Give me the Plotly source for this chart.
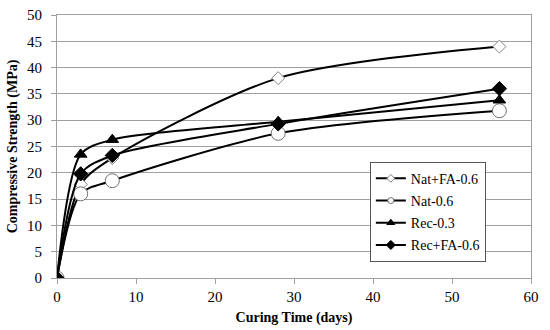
import plotly.graph_objects as go

days = [0, 3, 7, 28, 56]
nat_fa = [0, 17.8, 22.8, 38.0, 44.0]
nat = [0, 16.0, 18.5, 27.5, 31.8]
rec03 = [0, 23.5, 26.3, 29.7, 33.8]
rec_fa = [0, 19.8, 23.3, 29.3, 36.0]

series = [
    ("Nat+FA-0.6", nat_fa, "diamond", 10, "white", "#808080", 6),
    ("Nat-0.6", nat, "circle", 14, "white", "#707070", 6),
    ("Rec-0.3", rec03, "triangle-up", 11, "black", "black", 7),
    ("Rec+FA-0.6", rec_fa, "diamond", 11, "black", "black", 7),
]

fig = go.Figure()
for name, ys, sym, sz, fill, edge, lsz in series:
    fig.add_trace(go.Scatter(x=days, y=ys, name=name, mode="lines+markers", showlegend=False,
                             line=dict(color="black", width=2, shape="spline", smoothing=0.8),
                             marker=dict(symbol=sym, size=sz, color=fill, line=dict(color=edge, width=1))))
# legend entries with smaller symbols, as in the reference
for name, ys, sym, sz, fill, edge, lsz in series:
    fig.add_trace(go.Scatter(x=[None], y=[None], name=name, mode="lines+markers", legendgroup=name,
                             line=dict(color="black", width=2),
                             marker=dict(symbol=sym, size=lsz, color=fill, line=dict(color=edge, width=1))))

serif = "Liberation Serif"
fig.update_layout(
    width=550, height=330,
    margin=dict(l=57, r=19, t=15, b=52),
    paper_bgcolor="white", plot_bgcolor="white",
    font=dict(family=serif, size=15, color="black"),
    showlegend=True,
    legend=dict(x=0.66, y=0.442, xanchor="left", yanchor="top",
                bgcolor="white", bordercolor="#555555", borderwidth=1,
                font=dict(family=serif, size=14, color="black"),
                tracegroupgap=1, itemwidth=30),
)
fig.update_xaxes(range=[0, 60], dtick=10, showgrid=False, showline=True, linecolor="#a0a0a0",
                 mirror=True, ticks="outside", ticklen=5, tickcolor="#a0a0a0", zeroline=False,
                 automargin=False, tickfont=dict(family=serif, size=15),
                 title=dict(text="<b>Curing Time (days)</b>", standoff=8,
                            font=dict(family=serif, size=14)))
fig.update_yaxes(range=[0, 50], dtick=5, showgrid=True, gridcolor="#a0a0a0", gridwidth=1,
                 showline=True, linecolor="#a0a0a0", mirror=True, ticks="outside", ticklen=5,
                 tickcolor="#a0a0a0", zeroline=False, automargin=False, ticklabelstandoff=6,
                 tickfont=dict(family=serif, size=15),
                 title=dict(text="<b>Compressive Strength (MPa)</b>", standoff=6,
                            font=dict(family=serif, size=14)))
fig.write_html("out.html", config={"displayModeBar": False},
               post_script="document.body.style.margin='0';")
